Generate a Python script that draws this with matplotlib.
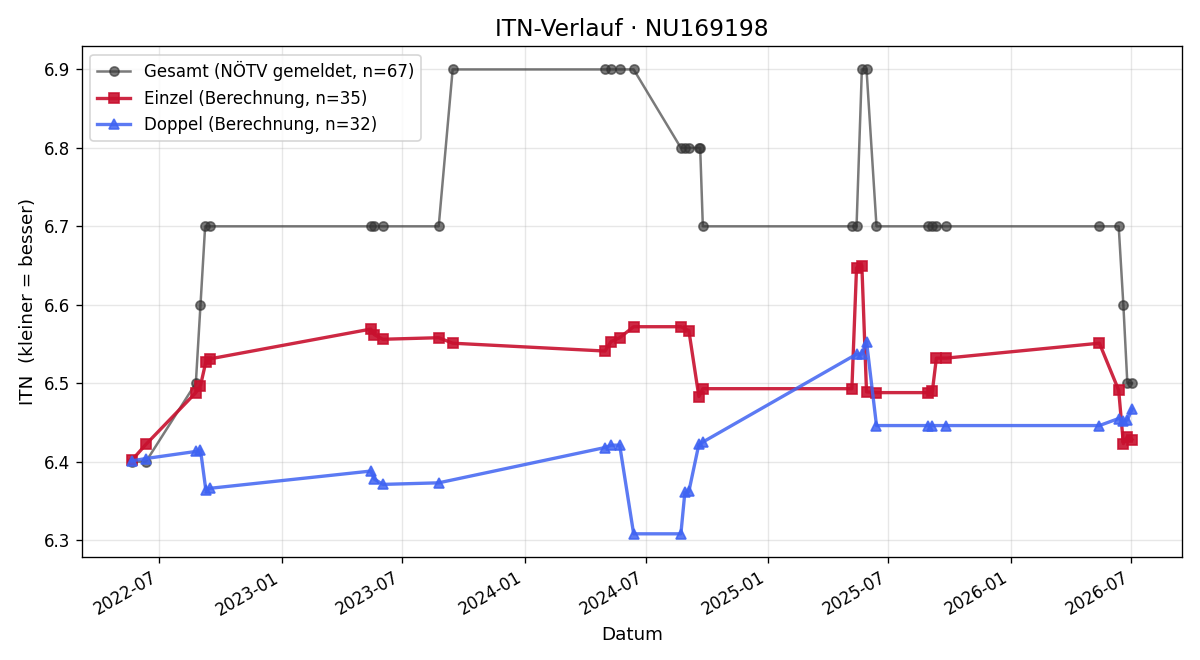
import matplotlib
matplotlib.use("Agg")
import matplotlib.pyplot as plt
import matplotlib.dates as mdates
import pandas as pd

# Gesamt (NÖTV gemeldet)
gesamt_dates = ["2022-05-21", "2022-06-11", "2022-08-25", "2022-09-01", "2022-09-08", "2022-09-15",
                "2023-05-15", "2023-05-20", "2023-06-02", "2023-08-25", "2023-09-15",
                "2024-05-01", "2024-05-10", "2024-05-23", "2024-06-13",
                "2024-08-23", "2024-08-29", "2024-09-04", "2024-09-19", "2024-09-21", "2024-09-25",
                "2025-05-07", "2025-05-14", "2025-05-22", "2025-05-29", "2025-06-13",
                "2025-08-29", "2025-09-05", "2025-09-11", "2025-09-26",
                "2026-05-14", "2026-06-12", "2026-06-19", "2026-06-25", "2026-07-02"]
gesamt_vals = [6.4, 6.4, 6.5, 6.6, 6.7, 6.7,
               6.7, 6.7, 6.7, 6.7, 6.9,
               6.9, 6.9, 6.9, 6.9,
               6.8, 6.8, 6.8, 6.8, 6.8, 6.7,
               6.7, 6.7, 6.9, 6.9, 6.7,
               6.7, 6.7, 6.7, 6.7,
               6.7, 6.7, 6.6, 6.5, 6.5]

# Einzel (Berechnung)
einzel_dates = ["2022-05-21", "2022-06-11", "2022-08-25", "2022-09-01", "2022-09-09", "2022-09-15",
                "2023-05-15", "2023-05-20", "2023-06-02", "2023-08-25", "2023-09-15",
                "2024-05-01", "2024-05-10", "2024-05-23", "2024-06-13",
                "2024-08-23", "2024-09-04", "2024-09-19", "2024-09-25",
                "2025-05-07", "2025-05-14", "2025-05-22", "2025-05-29", "2025-06-13",
                "2025-08-29", "2025-09-05", "2025-09-11", "2025-09-26",
                "2026-05-14", "2026-06-12", "2026-06-19", "2026-06-25", "2026-07-02"]
einzel_vals = [6.402, 6.422, 6.488, 6.497, 6.527, 6.531,
               6.569, 6.562, 6.556, 6.558, 6.551,
               6.541, 6.553, 6.558, 6.572,
               6.572, 6.567, 6.483, 6.493,
               6.493, 6.647, 6.650, 6.489, 6.488,
               6.488, 6.490, 6.532, 6.532,
               6.551, 6.491, 6.423, 6.432, 6.428]

# Doppel (Berechnung)
doppel_dates = ["2022-05-21", "2022-06-11", "2022-08-25", "2022-09-01", "2022-09-09", "2022-09-15",
                "2023-05-15", "2023-05-20", "2023-06-02", "2023-08-25",
                "2024-05-01", "2024-05-10", "2024-05-23", "2024-06-13",
                "2024-08-23", "2024-08-29", "2024-09-04", "2024-09-19", "2024-09-25",
                "2025-05-14", "2025-05-22", "2025-05-29", "2025-06-13",
                "2025-08-29", "2025-09-05", "2025-09-26",
                "2026-05-14", "2026-06-12", "2026-06-19", "2026-06-25", "2026-07-02"]
doppel_vals = [6.401, 6.404, 6.413, 6.415, 6.364, 6.366,
               6.388, 6.378, 6.371, 6.373,
               6.418, 6.421, 6.421, 6.308,
               6.308, 6.361, 6.362, 6.422, 6.425,
               6.537, 6.537, 6.553, 6.446,
               6.446, 6.446, 6.446,
               6.446, 6.455, 6.452, 6.453, 6.467]

labels = ["Gesamt (NÖTV gemeldet, n=67)", "Einzel (Berechnung, n=35)", "Doppel (Berechnung, n=32)"]

fig, ax = plt.subplots(figsize=(10, 5.5), dpi=120)

ax.plot(pd.to_datetime(gesamt_dates), gesamt_vals, marker="o", color="#333333", alpha=0.65,
        linewidth=1.5, markersize=5.5, label=labels[0])
ax.plot(pd.to_datetime(einzel_dates), einzel_vals, marker="s", color="#c8102e", alpha=0.9,
        linewidth=2, markersize=6.5, label=labels[1])
ax.plot(pd.to_datetime(doppel_dates), doppel_vals, marker="^", color="#3f63f2", alpha=0.85,
        linewidth=2, markersize=6.5, label=labels[2])

ax.set_title("ITN-Verlauf · NU169198", fontsize=14)
ax.set_xlabel("Datum", fontsize=11)
ax.set_ylabel("ITN  (kleiner = besser)", fontsize=11)
ax.grid(True, alpha=0.3)
ax.xaxis.set_major_locator(mdates.MonthLocator(bymonth=[1, 7]))
ax.xaxis.set_major_formatter(mdates.DateFormatter("%Y-%m"))
ax.legend(loc="upper left", fontsize=10)
fig.autofmt_xdate()
fig.subplots_adjust(left=0.0683, right=0.985, top=0.930, bottom=0.156)

fig.savefig("out.png", dpi=120)
